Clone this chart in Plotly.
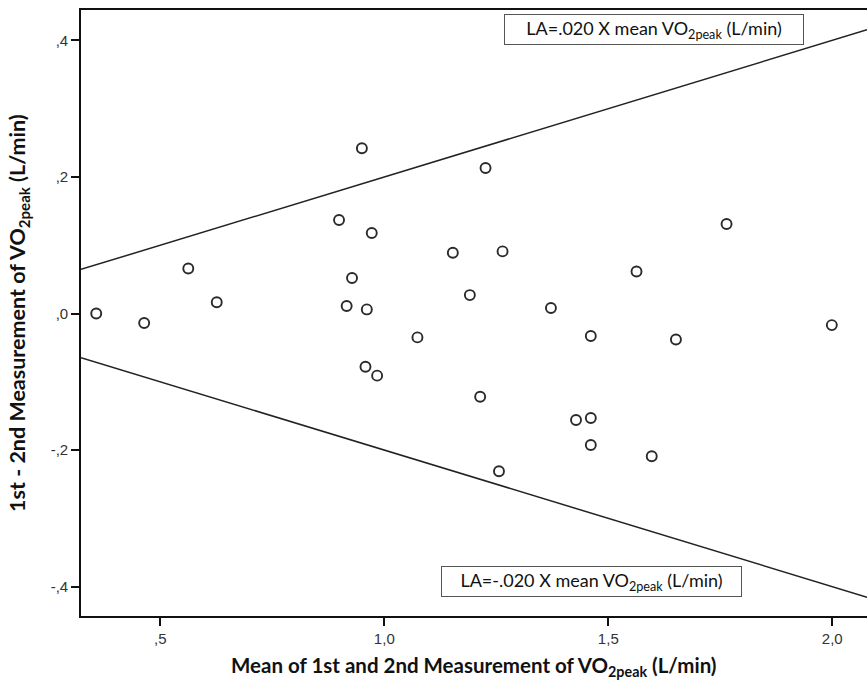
import plotly.graph_objects as go

# Data
mean_vo2 = [0.357, 0.464, 0.5625, 0.626, 0.899, 0.950, 0.928, 0.916, 0.961, 0.972,
            0.958, 0.984, 1.074, 1.153, 1.191, 1.226, 1.214, 1.264, 1.256, 1.372,
            1.461, 1.428, 1.461, 1.461, 1.563, 1.597, 1.651, 1.764, 1.999]
diff_vo2 = [0.000, -0.014, 0.066, 0.0165, 0.137, 0.242, 0.052, 0.011, 0.006, 0.118,
            -0.078, -0.091, -0.035, 0.089, 0.027, 0.213, -0.122, 0.091, -0.231, 0.008,
            -0.033, -0.156, -0.153, -0.1925, 0.0615, -0.209, -0.038, 0.131, -0.017]
limit_slope = 0.20

x_tickvals = [0.5, 1.0, 1.5, 2.0]
x_ticktext = [",5", "1,0", "1,5", "2,0"]
y_tickvals = [0.4, 0.2, 0.0, -0.2, -0.4]
y_ticktext = [",4", ",2", ",0", "-,2", "-,4"]

x_range = [0.323, 2.0775]
y_range = [-0.443, 0.4445]

upper_label = "LA=.020 X mean VO<sub>2peak</sub> (L/min)"
lower_label = "LA=-.020 X mean VO<sub>2peak</sub> (L/min)"
x_title = "<b>Mean of 1st and 2nd Measurement of VO<sub>2peak</sub> (L/min)</b>"
y_title = "<b>1st - 2nd Measurement of VO<sub>2peak</sub> (L/min)</b>"

fig = go.Figure()

line_x = x_range
fig.add_trace(go.Scatter(x=line_x, y=[limit_slope * v for v in line_x], mode="lines",
                         line=dict(color="#222222", width=1.5), hoverinfo="skip"))
fig.add_trace(go.Scatter(x=line_x, y=[-limit_slope * v for v in line_x], mode="lines",
                         line=dict(color="#222222", width=1.5), hoverinfo="skip"))
fig.add_trace(go.Scatter(x=mean_vo2, y=diff_vo2, mode="markers",
                         marker=dict(symbol="circle-open", size=10, color="#2a2a2a",
                                     line=dict(width=1.9, color="#2a2a2a"))))

W, H = 867, 682
L, R, T, B = 81, 0, 10, 66

fig.update_layout(
    width=W, height=H,
    margin=dict(l=L, r=R, t=T, b=B),
    paper_bgcolor="white", plot_bgcolor="white",
    showlegend=False,
    xaxis=dict(range=x_range, tickvals=x_tickvals, ticktext=x_ticktext,
               showgrid=False, zeroline=False, showline=True, linecolor="#111111",
               linewidth=1.6, mirror=True, ticks="outside", ticklen=8, tickwidth=1.6,
               tickcolor="#111111",
               tickfont=dict(family="Liberation Sans, Arial", size=15, color="#333333")),
    yaxis=dict(range=y_range, tickvals=y_tickvals, ticktext=y_ticktext,
               showgrid=False, zeroline=False, showline=True, linecolor="#111111",
               linewidth=1.6, mirror=False, ticks="outside", ticklen=8, tickwidth=1.6,
               tickcolor="#111111",
               tickfont=dict(family="Liberation Sans, Arial", size=15, color="#333333")),
    annotations=[
        dict(text=x_title, xref="paper", yref="paper", x=(474 - L) / (W - L - R),
             y=-(666 - (H - B)) / (H - T - B), xanchor="center", yanchor="middle",
             showarrow=False, font=dict(family="Lato, Open Sans", size=20.5, color="#111111")),
        dict(text=y_title, xref="paper", yref="paper", x=-(L - 18) / (W - L - R),
             y=(H - B - 313) / (H - T - B), xanchor="center", yanchor="middle",
             textangle=-90, showarrow=False,
             font=dict(family="Lato, Open Sans", size=21.5, color="#111111")),
        dict(text=upper_label, xref="paper", yref="paper", x=(654 - L) / (W - L - R),
             y=(H - B - 30) / (H - T - B), xanchor="center", yanchor="middle",
             showarrow=False, bordercolor="#555555", borderwidth=1, borderpad=2,
             bgcolor="white", width=294,
             font=dict(family="Lato, Open Sans", size=18, color="#111111")),
        dict(text=lower_label, xref="paper", yref="paper", x=(591 - L) / (W - L - R),
             y=(H - B - 581) / (H - T - B), xanchor="center", yanchor="middle",
             showarrow=False, bordercolor="#555555", borderwidth=1, borderpad=2,
             bgcolor="white", width=295,
             font=dict(family="Lato, Open Sans", size=18, color="#111111")),
    ],
)

fig.write_html("out.html", config={"displayModeBar": False},
               post_script="document.body.style.margin='0';document.body.style.overflow='hidden';")
